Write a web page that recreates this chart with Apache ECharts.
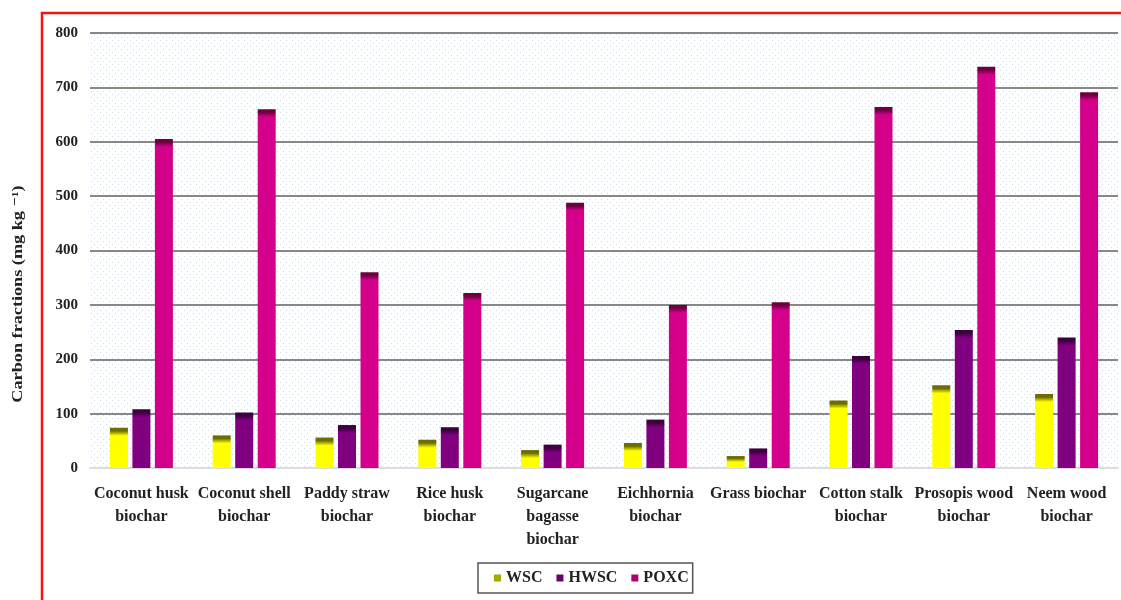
<!DOCTYPE html>
<html><head><meta charset="utf-8">
<script src="https://cdn.jsdelivr.net/npm/echarts@6/dist/echarts.min.js"></script>
<style>html,body{margin:0;padding:0;background:#fff}#c{width:1121px;height:600px}</style>
</head><body><div id="c"></div>
<script>
const categories = ["Coconut husk\nbiochar","Coconut shell\nbiochar","Paddy straw\nbiochar","Rice husk\nbiochar","Sugarcane\nbagasse\nbiochar","Eichhornia\nbiochar","Grass biochar","Cotton stalk\nbiochar","Prosopis wood\nbiochar","Neem wood\nbiochar"];
const wsc  = [74, 60, 56, 52, 33, 46, 22, 124, 152, 136];
const hwsc = [108, 102, 79, 75, 43, 89, 36, 206, 254, 240];
const poxc = [605, 660, 360, 322, 488, 300, 305, 664, 738, 691];
const yTicks = [0,100,200,300,400,500,600,700,800];
const yTitle = 'Carbon fractions (mg kg \u207B\u00B9)';

const pc = document.createElement('canvas'); pc.width = 6; pc.height = 6;
const pctx = pc.getContext('2d');
pctx.fillStyle = '#ffffff'; pctx.fillRect(0,0,6,6);
pctx.fillStyle = '#c9dbf0'; pctx.fillRect(1,1,1,1); pctx.fillRect(4,4,1,1);

const serif = '"Liberation Serif","DejaVu Serif",serif';
const chart = echarts.init(document.getElementById('c'));
function mk(name, data, top, main){
  return {name, type:'bar', data, barWidth:18, barGap:'25%',
    itemStyle:{color: function(p){
      const frac = Math.min(0.5, 8/(p.value*0.54375));
      return {type:'linear',x:0,y:0,x2:0,y2:1,colorStops:[
        {offset:0,color:top},{offset:frac*0.4,color:top},{offset:frac,color:main},{offset:1,color:main}]};
    }}};
}
chart.setOption({
  animation:false,
  graphic:[
    {type:'rect',shape:{x:42,y:13,width:1200,height:700},style:{fill:'none',stroke:'#ff1010',lineWidth:2.5},z:100},
    {type:'text',x:18,y:294,rotation:Math.PI/2,scaleX:1.3,
      style:{text:yTitle,font:'bold 14px '+serif,fill:'#222',align:'center',verticalAlign:'middle'}}
  ],
  grid:{left:90,right:3,top:33,bottom:132,show:true,outerBoundsMode:'none',containLabel:false,
    backgroundColor:{image:pc,repeat:'repeat'},borderWidth:0},
  legend:{bottom:7,left:478,itemWidth:7,itemHeight:7,itemGap:14,icon:'rect',
    borderColor:'#555',borderWidth:1.5,padding:[7,4,7,16],
    textStyle:{fontFamily:serif,fontWeight:'bold',fontSize:16,color:'#222'},
    data:[{name:'WSC',itemStyle:{color:'#a8a800'}},{name:'HWSC',itemStyle:{color:'#6a006a'}},{name:'POXC',itemStyle:{color:'#b0006e'}}]},
  xAxis:{type:'category',data:categories,
    axisLine:{show:true,lineStyle:{color:'#dddddd',width:2}},axisTick:{show:false},
    axisLabel:{interval:0,fontFamily:serif,fontWeight:'bold',fontSize:16,color:'#222',lineHeight:23,margin:14}},
  yAxis:{type:'value',min:0,max:800,interval:100,
    axisLine:{show:false},axisTick:{show:false},
    axisLabel:{fontFamily:serif,fontWeight:'bold',fontSize:15,color:'#222',margin:12,
      formatter:v=>yTicks.includes(v)?String(v):''},
    splitLine:{show:true,lineStyle:{color:'#888888',width:2}}},
  series:[mk('WSC',wsc,'#6e6e00','#ffff00'),mk('HWSC',hwsc,'#3e003e','#800080'),mk('POXC',poxc,'#6e0040','#d4008c')]
});
</script></body></html>
